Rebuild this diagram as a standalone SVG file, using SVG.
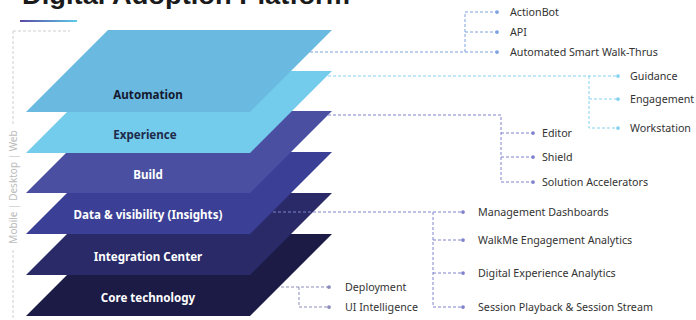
<svg xmlns="http://www.w3.org/2000/svg" width="696" height="320" viewBox="0 0 696 320">
<defs>
<linearGradient id="tg" x1="0" x2="1" y1="0" y2="0"><stop offset="0" stop-color="#5A4AA6"/><stop offset="1" stop-color="#5CCBE6"/></linearGradient>
<marker id="mA" viewBox="0 0 6 6" refX="3" refY="3" markerWidth="4.5" markerHeight="4.5" markerUnits="userSpaceOnUse"><circle cx="3" cy="3" r="2.5" fill="#7DA3DE"/></marker>
<marker id="mE" viewBox="0 0 6 6" refX="3" refY="3" markerWidth="4.5" markerHeight="4.5" markerUnits="userSpaceOnUse"><circle cx="3" cy="3" r="2.5" fill="#84D2F0"/></marker>
<marker id="mB" viewBox="0 0 6 6" refX="3" refY="3" markerWidth="4.5" markerHeight="4.5" markerUnits="userSpaceOnUse"><circle cx="3" cy="3" r="2.5" fill="#7F82CC"/></marker>
<marker id="mC" viewBox="0 0 6 6" refX="3" refY="3" markerWidth="4.5" markerHeight="4.5" markerUnits="userSpaceOnUse"><circle cx="3" cy="3" r="2.5" fill="#8B8CBA"/></marker>
</defs>
<style>
.lbl{font-family:"Noto Sans","Liberation Sans",sans-serif;font-size:11.6px;font-weight:700;text-anchor:middle}
.it{font-family:"Noto Sans","Liberation Sans",sans-serif;font-size:10.7px;fill:#333}
.c{fill:none;stroke-width:1;stroke-dasharray:3 2}
.cA{stroke:#7DA3DE}.cE{stroke:#84D2F0}.cB{stroke:#7F82CC}.cC{stroke:#8B8CBA}
.fr{fill:none;stroke:#CFCFCF;stroke-width:1;stroke-dasharray:3 2}
</style>
<rect width="696" height="320" fill="#fff"/>
<text x="22" y="4" font-family="'Liberation Sans',sans-serif" font-size="26" font-weight="700" fill="#1a1a1a" textLength="328" lengthAdjust="spacingAndGlyphs">Digital Adoption Platform</text>
<rect x="20" y="20" width="57" height="2" fill="url(#tg)"/>
<g id="frame">
<path class="fr" d="M13,31 H70 M13,31 V125 M13,250 V320"/>
<text transform="translate(17,187) rotate(-90)" font-family="'Noto Sans',sans-serif" font-size="10" fill="#BBBBBB" text-anchor="middle">Mobile | Desktop | Web</text>
</g>
<g id="core"><polygon points="108,234 332,234 250,316 26,316" fill="#1B1B45"/><text class="lbl" x="148" y="302" fill="#fff">Core technology</text></g>
<g id="integration"><polygon points="108,193 332,193 250,275 26,275" fill="#2A2A68"/><text class="lbl" x="148" y="261" fill="#fff">Integration Center</text></g>
<g id="data"><polygon points="108,152 332,152 250,234 26,234" fill="#3B3F96"/><text class="lbl" x="148" y="219" fill="#fff">Data &amp; visibility (Insights)</text></g>
<g id="build"><polygon points="108,111 332,111 250,193 26,193" fill="#4A4FA1"/><text class="lbl" x="148" y="179" fill="#fff">Build</text></g>
<g id="experience"><polygon points="108,71 332,71 250,153 26,153" fill="#74CCEC"/><text class="lbl" x="145" y="139" fill="#1E2A4A">Experience</text></g>
<g id="automation"><polygon points="108,30 332,30 250,112 26,112" fill="#69B9E1"/><text class="lbl" x="148" y="99" fill="#16182E">Automation</text></g>
<g id="connectors">
<path class="c cA" d="M310,52 H497" marker-end="url(#mA)"/>
<path class="c cA" d="M465,52 V12 H497" marker-end="url(#mA)"/>
<path class="c cA" d="M465,32 H497" marker-end="url(#mA)"/>
<path class="c cE" d="M328,76 H618" marker-end="url(#mE)"/>
<path class="c cE" d="M589,76 V128 H618" marker-end="url(#mE)"/>
<path class="c cE" d="M589,99 H618" marker-end="url(#mE)"/>
<path class="c cB" d="M328,115 H501 V182 H533" marker-end="url(#mB)"/>
<path class="c cB" d="M501,133 H533" marker-end="url(#mB)"/>
<path class="c cB" d="M501,157 H533" marker-end="url(#mB)"/>
<path class="c cB" d="M273,212 H463" marker-end="url(#mB)"/>
<path class="c cB" d="M433,212 V307 H463" marker-end="url(#mB)"/>
<path class="c cB" d="M433,240 H463" marker-end="url(#mB)"/>
<path class="c cB" d="M433,273 H463" marker-end="url(#mB)"/>
<path class="c cC" d="M281,287 H329" marker-end="url(#mC)"/>
<path class="c cC" d="M299,287 V307 H329" marker-end="url(#mC)"/>
</g>
<g id="items">
<text class="it" x="510" y="16">ActionBot</text>
<text class="it" x="510" y="36">API</text>
<text class="it" x="510" y="56">Automated Smart Walk-Thrus</text>
<text class="it" x="630" y="80">Guidance</text>
<text class="it" x="630" y="103">Engagement</text>
<text class="it" x="630" y="132">Workstation</text>
<text class="it" x="542" y="137">Editor</text>
<text class="it" x="542" y="161">Shield</text>
<text class="it" x="542" y="186">Solution Accelerators</text>
<text class="it" x="478" y="216">Management Dashboards</text>
<text class="it" x="478" y="244">WalkMe Engagement Analytics</text>
<text class="it" x="478" y="277">Digital Experience Analytics</text>
<text class="it" x="478" y="311">Session Playback &amp; Session Stream</text>
<text class="it" x="345" y="291">Deployment</text>
<text class="it" x="345" y="311">UI Intelligence</text>
</g>
</svg>
